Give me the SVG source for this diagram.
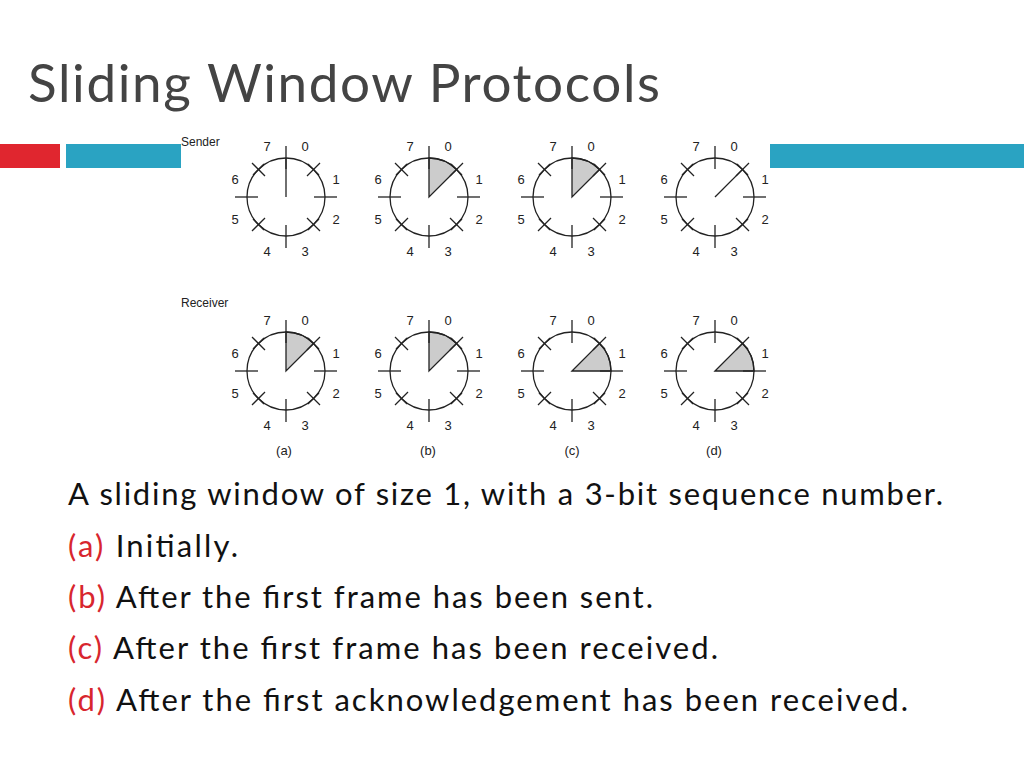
<svg xmlns="http://www.w3.org/2000/svg" width="1024" height="768" viewBox="0 0 1024 768">
<defs>
<style>
.c{fill:none;stroke:#222;stroke-width:1.3}
.t{stroke:#222;stroke-width:1.3}
.s{fill:#cccccc;stroke:#222;stroke-width:1.3}
.n{font-family:"Liberation Sans",Arial,sans-serif;font-size:13px;fill:#222;text-anchor:middle}
.b{font-family:"Lato","Open Sans",sans-serif;font-size:31px;fill:#111}
.r{fill:#d8262e}
</style>
<g id="dial">
<circle class="c" r="39"/>
<g class="t">
<line x1="0" y1="-51" x2="0" y2="-28"/><line x1="0" y1="51" x2="0" y2="28"/>
<line x1="-51" y1="0" x2="-28" y2="0"/><line x1="51" y1="0" x2="28" y2="0"/>
<line x1="21" y1="-21" x2="34" y2="-34"/><line x1="-21" y1="-21" x2="-34" y2="-34"/>
<line x1="21" y1="21" x2="34" y2="34"/><line x1="-21" y1="21" x2="-34" y2="34"/>
<line x1="22" y1="-33" x2="33" y2="-22"/><line x1="-22" y1="-33" x2="-33" y2="-22"/>
<line x1="22" y1="33" x2="33" y2="22"/><line x1="-22" y1="33" x2="-33" y2="22"/>
</g>
<g class="n">
<text x="19" y="-46">0</text><text x="50" y="-13">1</text><text x="50" y="27">2</text><text x="19" y="59">3</text>
<text x="-19" y="59">4</text><text x="-51" y="27">5</text><text x="-51" y="-13">6</text><text x="-19" y="-46">7</text>
</g>
</g>
<path id="sec01" class="s" d="M0 0 L0 -39 A39 39 0 0 1 27.6 -27.6 Z"/>
<path id="sec12" class="s" d="M0 0 L27.6 -27.6 A39 39 0 0 1 39 0 Z"/>
</defs>
<rect width="1024" height="768" fill="#fff"/>
<text x="28" y="102" font-family="Lato,'Open Sans',sans-serif" font-size="53" fill="#444" textLength="632" lengthAdjust="spacing">Sliding Window Protocols</text>
<rect x="0" y="144" width="60" height="24" fill="#e0262f"/>
<rect x="66" y="144" width="115" height="24" fill="#2aa3c2"/>
<rect x="770" y="144" width="254" height="24" fill="#2aa3c2"/>
<text x="181" y="146" font-family="Liberation Sans,Arial,sans-serif" font-size="12" fill="#222">Sender</text>
<text x="181" y="307" font-family="Liberation Sans,Arial,sans-serif" font-size="12" fill="#222">Receiver</text>
<g id="sender-a" transform="translate(286,197)"><use href="#dial"/><line class="t" x1="0" y1="0" x2="0" y2="-39"/></g>
<g id="sender-b" transform="translate(429,197)"><use href="#sec01"/><use href="#dial"/></g>
<g id="sender-c" transform="translate(572,197)"><use href="#sec01"/><use href="#dial"/></g>
<g id="sender-d" transform="translate(715,197)"><use href="#dial"/><line class="t" x1="0" y1="0" x2="27.6" y2="-27.6"/></g>
<g id="receiver-a" transform="translate(286,371)"><use href="#sec01"/><use href="#dial"/></g>
<g id="receiver-b" transform="translate(429,371)"><use href="#sec01"/><use href="#dial"/></g>
<g id="receiver-c" transform="translate(572,371)"><use href="#sec12"/><use href="#dial"/></g>
<g id="receiver-d" transform="translate(715,371)"><use href="#sec12"/><use href="#dial"/></g>
<g class="n"><text x="284" y="455">(a)</text><text x="428" y="455">(b)</text><text x="572" y="455">(c)</text><text x="714" y="455">(d)</text></g>
<g class="b">
<text x="68" y="505" textLength="875" lengthAdjust="spacing">A sliding window of size 1, with a 3-bit sequence number.</text>
<text x="68" y="557" textLength="170" lengthAdjust="spacing"><tspan class="r">(a)</tspan> Initially.</text>
<text x="68" y="608" textLength="585" lengthAdjust="spacing"><tspan class="r">(b)</tspan> After the first frame has been sent.</text>
<text x="68" y="659" textLength="650" lengthAdjust="spacing"><tspan class="r">(c)</tspan> After the first frame has been received.</text>
<text x="68" y="711" textLength="840" lengthAdjust="spacing"><tspan class="r">(d)</tspan> After the first acknowledgement has been received.</text>
</g>
</svg>
